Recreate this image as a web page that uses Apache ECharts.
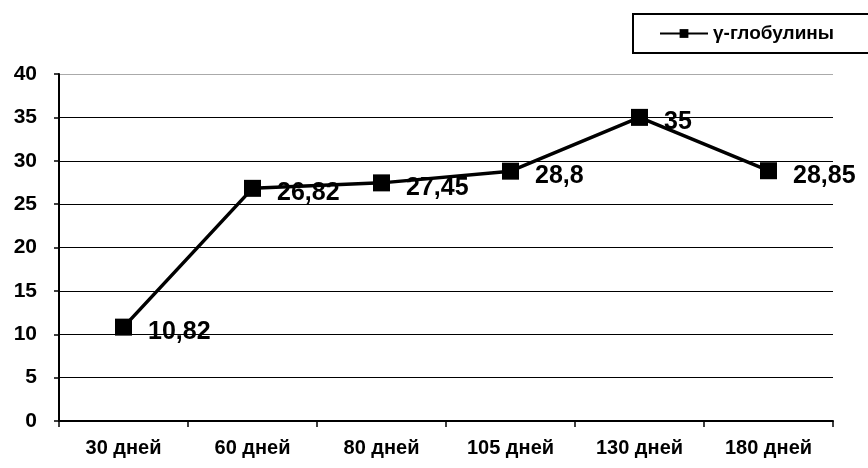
<!DOCTYPE html>
<html><head><meta charset="utf-8">
<script src="https://cdn.jsdelivr.net/npm/echarts@6/dist/echarts.min.js"></script>
<style>html,body{margin:0;padding:0;background:#fff}#c{width:868px;height:468px}</style>
</head><body><div id="c"></div>
<script>
var categories = ['30 дней','60 дней','80 дней','105 дней','130 дней','180 дней'];
var values = [10.82, 26.82, 27.45, 28.8, 35, 28.85];
var seriesName = 'γ-глобулины';
var yTicks = [0, 5, 10, 15, 20, 25, 30, 35, 40];

var FONT = 'Arial, "Liberation Sans", sans-serif';
var chart = echarts.init(document.getElementById('c'));
chart.setOption({
  animation: false,
  grid: {left: 59, right: 35, top: 74, bottom: 47},
  legend: {
    data: [seriesName], left: 633, top: 14,
    borderColor: '#000', borderWidth: 2, borderRadius: 0,
    padding: [10, 60, 10, 26], itemWidth: 48, itemHeight: 11, itemGap: 8,
    textStyle: {fontFamily: FONT, fontWeight: 'bold', fontSize: 19, color: '#000'}
  },
  xAxis: {
    type: 'category', data: categories, boundaryGap: true,
    axisLine: {lineStyle: {color: '#000', width: 2}},
    axisTick: {show: true, length: 6, lineStyle: {color: '#000', width: 1.5}},
    axisLabel: {fontFamily: FONT, fontWeight: 'bold', fontSize: 20, color: '#000', margin: 17}
  },
  yAxis: {
    type: 'value', min: 0, max: 40, interval: 5,
    axisLine: {show: true, lineStyle: {color: '#000', width: 2}},
    axisTick: {show: true, length: 5, lineStyle: {color: '#000', width: 1.5}},
    axisLabel: {fontFamily: FONT, fontWeight: 'bold', fontSize: 21, color: '#000', margin: 22,
      formatter: function(v){ return yTicks.indexOf(v) >= 0 ? String(v) : ''; }},
    splitLine: {show: true, lineStyle: {color: ['#000','#000','#000','#000','#000','#000','#000','#000','#aaa'], width: 1}}
  },
  series: [{
    name: seriesName, type: 'line', data: values,
    symbol: 'rect', symbolSize: 17,
    lineStyle: {color: '#000', width: 3.5},
    itemStyle: {color: '#000'},
    label: {
      show: true, position: 'right', distance: 16, offset: [0, 5],
      fontFamily: FONT, fontWeight: 'bold', fontSize: 25, color: '#000',
      formatter: function(p){ return String(p.value).replace('.', ','); }
    }
  }]
});
</script></body></html>
